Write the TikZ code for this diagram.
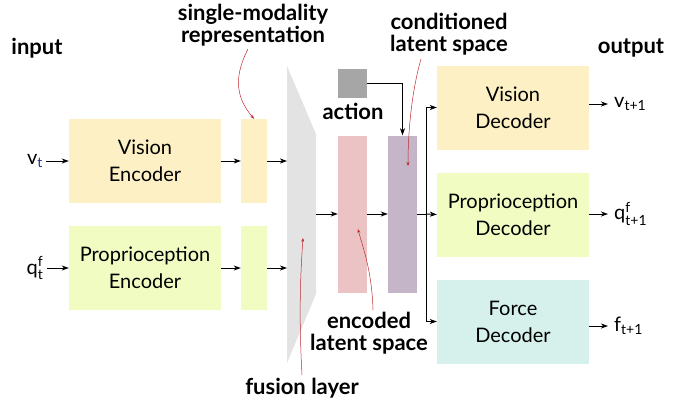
\documentclass[tikz,border=0pt]{standalone}
\usepackage{amsmath}
\usepackage{fontspec}
\setmainfont{Lato}
\usepackage{xcolor}
\usepackage{tikz}
\usetikzlibrary{arrows.meta}

\definecolor{visyellow}{HTML}{FCF0C4}
\definecolor{propgreen}{HTML}{F1FCC3}
\definecolor{forcecyan}{HTML}{D6F1EC}
\definecolor{encpink}{HTML}{EBC3C4}
\definecolor{condpurple}{HTML}{C4B5C8}
\definecolor{actgray}{HTML}{A6A6A6}
\definecolor{fusegray}{HTML}{E3E3E3}
\definecolor{annotred}{HTML}{C0282D}
\definecolor{subblue}{HTML}{2A2F8C}

\tikzset{
  block/.style={fill=#1, minimum width=152pt, minimum height=84pt, align=center,
    inner sep=0pt, font=\fontsize{20}{27}\selectfont},
  slab/.style={fill=#1, minimum width=26pt, minimum height=84pt, inner sep=0pt},
  latent/.style={fill=#1, minimum width=29pt, minimum height=157pt, inner sep=0pt},
  tag/.style={font=\fontsize{22}{22}\selectfont\bfseries, align=center, inner sep=0pt},
  sig/.style={font=\fontsize{20}{22}\selectfont, inner sep=3pt},
  flow/.style={-{Stealth[length=7pt,width=5pt,inset=2pt]}, line width=0.9pt},
  annot/.style={-{Stealth[length=4pt,width=3pt]}, annotred, line width=0.5pt}
}

\begin{document}
\begin{tikzpicture}[x=1pt,y=-1pt]
\useasboundingbox (0,0) rectangle (692,402);

% fusion layer
\fill[fusegray] (287,66) -- (316,134) -- (316,294) -- (287,363) -- cycle;
\coordinate (fusevin) at (287,161);
\coordinate (fusepin) at (287,268);
\coordinate (fuseout) at (316,214);

% encoders
\node[block=visyellow] (venc) at (145,161) {Vision\\Encoder};
\node[block=propgreen] (penc) at (145,268) {Proprioception\\Encoder};
\node[slab=visyellow] (vrep) at (254,161) {};
\node[slab=propgreen] (prep) at (254,268) {};

% latent spaces
\node[latent=encpink] (enc) at (352.5,214) {};
\node[latent=condpurple] (cond) at (402.5,214) {};
\node[fill=actgray, minimum width=29pt, minimum height=29pt, inner sep=0pt] (act) at (352.5,83.5) {};

% decoders
\node[block=visyellow] (vdec) at (513,107.5) {Vision\\Decoder};
\node[block=propgreen] (pdec) at (513,214.5) {Proprioception\\Decoder};
\node[block=forcecyan] (fdec) at (513,321.5) {Force\\Decoder};

% inputs and outputs
\node[sig] (vin) at (35,161) {$\text{v}_{\textcolor{subblue}{\text{t}}}$};
\node[sig] (qin) at (35,268) {$\text{q}^{\text{f}}_{\text{t}}$};
\node[sig, anchor=west, inner xsep=6pt] (vout) at (608,104) {$\text{v}_{\text{t+1}}$};
\node[sig, anchor=west, inner xsep=6pt] (qout) at (608,214) {$\text{q}^{\text{f}}_{\text{t+1}}$};
\node[sig, anchor=west, inner xsep=6pt] (fout) at (608,326) {$\text{f}_{\text{t+1}}$};

% labels
\node[tag] (inlabel) at (37,48) {input};
\node[tag] (outlabel) at (631,48) {output};
\node[tag] (actlabel) at (353,111) {action};
\node[tag] (smlabel) at (253,25) {single-modality\\representation};
\node[tag] (clslabel) at (449,34) {conditioned\\latent space};
\node[tag] (elslabel) at (369,333) {encoded\\latent space};
\node[tag] (fllabel) at (302,388) {fusion layer};

% connectors
\draw[flow] (vin) -- (venc);
\draw[flow] (qin) -- (penc);
\draw[flow] (venc) -- (vrep);
\draw[flow] (penc) -- (prep);
\draw[flow] (vrep) -- (fusevin);
\draw[flow] (prep) -- (fusepin);
\draw[flow] (fuseout) -- (enc);
\draw[flow] (enc) -- (cond);
\draw[flow] (act.east) -| (cond.north);

\coordinate (split) at (426,214);
\draw[line width=0.9pt] (cond) -- (split);
\draw[flow] (split) |- (vdec.west);
\draw[flow] (split) -- (pdec.west);
\draw[flow] (split) |- (fdec.west);

\draw[flow] (vdec.east |- vout) -- (vout);
\draw[flow] (pdec.east |- qout) -- (qout);
\draw[flow] (fdec.east |- fout) -- (fout);

% annotations
\coordinate (smfoot) at (248,49);
\coordinate (clsfoot) at (421,59);
\coordinate (clstip) at (408,166);
\coordinate (elsfoot) at (373,310);
\coordinate (elstip) at (358,229);
\coordinate (flfoot) at (302,375);
\coordinate (fltip) at (303,238);
\draw[annot] (smfoot) .. controls (232,80) and (238,100) .. (vrep.north);
\draw[annot] (clsfoot) .. controls (412,90) and (408,130) .. (clstip);
\draw[annot] (elsfoot) .. controls (372,270) and (362,245) .. (elstip);
\draw[annot] (flfoot) .. controls (299,320) and (300,280) .. (fltip);

\end{tikzpicture}
\end{document}
